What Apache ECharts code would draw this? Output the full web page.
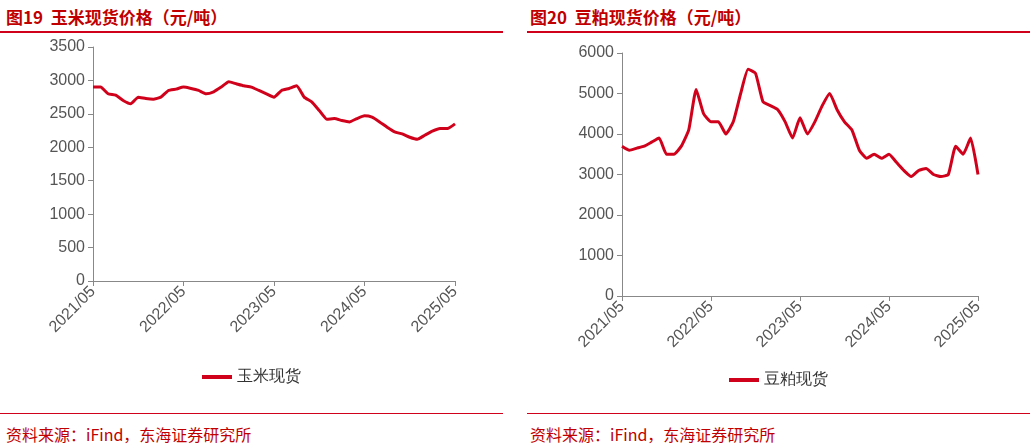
<!DOCTYPE html><html><head><meta charset="utf-8">
<script src="https://cdn.jsdelivr.net/npm/echarts@6/dist/echarts.min.js"></script>
<style>
body{margin:0;width:1032px;height:446px;background:#fff;font-family:"Noto Sans CJK SC",sans-serif;position:relative;overflow:hidden}
.t{position:absolute;top:4px;font-size:17px;font-weight:bold;color:#c00000}
.l{position:absolute;height:2px;background:#d0021b}
.s{position:absolute;top:422px;font-size:16px;color:#c00000}
.c{position:absolute;top:34px;height:376px}
</style></head><body>
<div class="t" style="left:6px">图19&nbsp;&nbsp;玉米现货价格（元/吨）</div>
<div class="t" style="left:530px">图20&nbsp;&nbsp;豆粕现货价格（元/吨）</div>
<div class="l" style="left:0;width:503px;top:31px"></div>
<div class="l" style="left:527px;width:503px;top:31px"></div>
<div class="l" style="left:0;width:503px;top:413px;height:1px"></div>
<div class="l" style="left:527px;width:503px;top:413px;height:1px"></div>
<div class="s" style="left:6px">资料来源：iFind，东海证券研究所</div>
<div class="s" style="left:530px">资料来源：iFind，东海证券研究所</div>
<div id="a" class="c" style="left:0;width:503px"></div>
<div id="b" class="c" style="left:527px;width:503px"></div>
<script>
const months=[];for(let y=2021;y<=2025;y++)for(let m=1;m<=12;m++){if((y==2021&&m<5)||(y==2025&&m>5))continue;months.push(y+'/'+String(m).padStart(2,'0'));}
const cornValues=[2900,2900,2800,2780,2700,2650,2750,2730,2720,2750,2850,2870,2900,2880,2850,2800,2830,2900,2980,2950,2920,2900,2850,2800,2750,2850,2880,2920,2750,2680,2550,2420,2430,2400,2380,2430,2470,2450,2380,2300,2230,2200,2150,2120,2180,2240,2280,2280,2350];
const mealValues=[3700,3600,3650,3700,3800,3900,3500,3500,3700,4100,5100,4500,4300,4300,4000,4300,5000,5600,5500,4800,4700,4600,4300,3900,4400,4000,4300,4700,5000,4600,4300,4100,3600,3400,3500,3400,3500,3300,3100,2950,3100,3150,3000,2950,3000,3700,3500,3900,3000];
function opt(name,vals,max,interval,gl,gr,gt,gb,lb){return{animation:false,
grid:{left:gl,right:gr,top:gt,bottom:gb},
legend:{bottom:lb,itemWidth:30,itemHeight:4,textStyle:{fontSize:16,color:'#333'},data:[{name:name,icon:'rect'}]},
xAxis:{type:'category',data:months,boundaryGap:false,axisLine:{lineStyle:{color:'#888'}},axisTick:{show:true,alignWithLabel:true,interval:(i)=>i%12==0,lineStyle:{color:'#888'}},
axisLabel:{interval:(i)=>i%12==0,rotate:45,fontSize:16,color:'#555',fontFamily:'Liberation Sans'}},
yAxis:{type:'value',min:0,max:max,interval:interval,splitLine:{show:false},axisLine:{show:true,lineStyle:{color:'#888'}},axisTick:{show:true,lineStyle:{color:'#888'}},axisLabel:{fontSize:16,color:'#555',fontFamily:'Liberation Sans',formatter:v=>String(v)}},
series:[{name:name,type:'line',data:vals,showSymbol:false,smooth:0.15,lineStyle:{width:3,color:'#d0021b'},itemStyle:{color:'#d0021b'}}]}}
echarts.init(document.getElementById('a')).setOption(opt('玉米现货',cornValues,3500,500,93,48,13,129,20));
echarts.init(document.getElementById('b')).setOption(opt('豆粕现货',mealValues,6000,1000,95,52,19,114,17));
</script></body></html>
